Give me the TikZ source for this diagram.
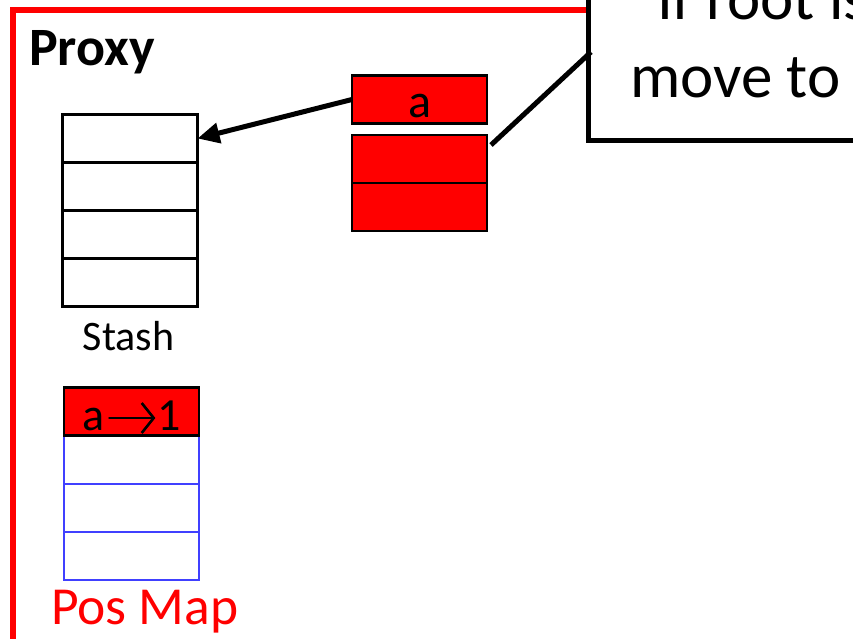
\documentclass[tikz,border=0pt]{standalone}
\usepackage{fontspec}
\setmainfont{Carlito}
\usetikzlibrary{arrows.meta}
\definecolor{mapblue}{RGB}{64,64,255}
\tikzset{
  cell/.style={draw=black, line width=2.2pt, minimum width=135pt, minimum height=48pt, inner sep=0pt, outer sep=0pt},
  redcell/.style={cell, fill=red},
  bluecell/.style={cell, draw=mapblue},
  lbl/.style={inner sep=0pt, outer sep=0pt, anchor=base},
  thick line/.style={line width=5pt, draw=black}
}
% arrow glyph used inside the map entry
\newcommand{\maparrow}{\tikz[x=1pt, y=1pt, baseline=0pt]\draw[line width=2.6pt, line cap=round, line join=round, -{Straight Barb[length=12pt, width=30pt, line width=2.6pt]}] (0,12) -- (46,12);}
\begin{document}
\begin{tikzpicture}[x=1pt, y=-1pt]
\useasboundingbox (0,0) rectangle (853,639);
\clip (0,0) rectangle (853,639);
\fill[white] (0,0) rectangle (853,639);

% proxy frame
\draw[red, line width=6.5pt] (13,700) -- (13,10) -- (590,10);
\node[lbl, anchor=base west, font=\fontsize{54}{64}\selectfont\bfseries] (proxy) at (29,66) {Proxy};

% stash
\node[cell] (s1) at (130,138.5) {};
\node[cell] (s2) at (130,186.5) {};
\node[cell] (s3) at (130,234.5) {};
\node[cell] (s4) at (130,282.5) {};
\node[lbl, font=\fontsize{42}{50}\selectfont] (stashlbl) at (128.5,350) {Stash};

% path blocks
\node[redcell] (b1) at (419.5,99.5) {};
\node[lbl, font=\fontsize{48}{56}\selectfont] (b1txt) at (419.5,118) {a};
\node[redcell] (b2) at (419.5,159) {};
\node[redcell] (b3) at (419.5,207) {};

% position map
\node[bluecell] (p2) at (131.5,460) {};
\node[bluecell] (p3) at (131.5,508) {};
\node[bluecell] (p4) at (131.5,556) {};
\node[redcell] (p1) at (131.5,411.5) {};
\node[lbl, font=\fontsize{46}{54}\selectfont] (p1txt) at (131.5,430) {a\kern4pt\maparrow\kern1pt 1};
\node[lbl, anchor=base west, text=red, font=\fontsize{53.5}{62}\selectfont] (maplbl) at (51,624) {Pos Map};

% move arrow into stash
\draw[thick line, -{Triangle[length=22pt, width=20pt]}] (b1.west) -- (s1.east);

% callout
\node[draw=black, line width=5pt, fill=white, anchor=north west, minimum width=400pt, minimum height=170pt, inner sep=0pt] (note) at (586,-32) {};
\node[lbl, anchor=base west, font=\fontsize{63}{76}\selectfont] (line1) at (657,20) {If root is};
\node[lbl, anchor=base west, font=\fontsize{63}{76}\selectfont] (line2) at (630,98) {move to};
\coordinate (tip) at (591,52);
\coordinate (foot) at (491,145);
\draw[thick line] (tip) -- (foot);
\end{tikzpicture}
\end{document}
